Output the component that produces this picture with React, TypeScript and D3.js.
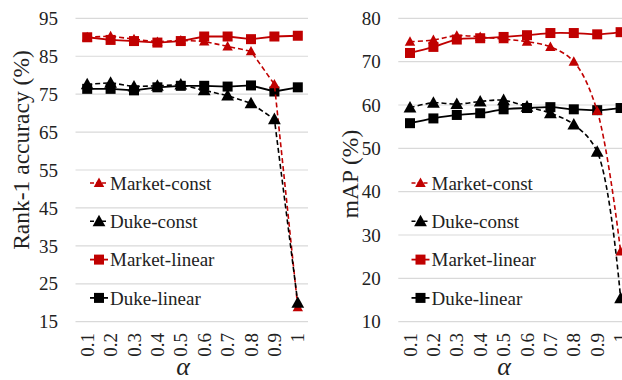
import { useEffect, useRef } from "react";
import * as d3 from "d3";

const alphas = ["0.1", "0.2", "0.3", "0.4", "0.5", "0.6", "0.7", "0.8", "0.9", "1"];

// Rank-1 accuracy (%)
const rankMarketConst = [90.0, 90.3, 89.5, 88.8, 89.2, 88.9, 87.6, 86.3, 77.6, 18.8];
const rankDukeConst = [77.6, 78.0, 77.0, 77.2, 77.5, 76.0, 74.6, 72.6, 68.4, 20.0];
const rankMarketLinear = [90.0, 89.3, 89.0, 88.6, 89.0, 90.2, 90.2, 89.5, 90.2, 90.4];
const rankDukeLinear = [76.4, 76.4, 76.0, 76.8, 77.2, 77.2, 77.0, 77.3, 75.7, 76.8];
const rankTicks = [15, 25, 35, 45, 55, 65, 75, 85, 95];

// mAP (%)
const mapMarketConst = [74.6, 75.0, 76.0, 75.7, 75.2, 74.6, 73.4, 70.0, 58.6, 26.2];
const mapDukeConst = [59.4, 60.5, 60.2, 60.8, 61.1, 59.6, 58.1, 55.5, 49.2, 15.4];
const mapMarketLinear = [72.0, 73.4, 75.1, 75.4, 75.7, 76.1, 76.6, 76.6, 76.3, 76.8];
const mapDukeLinear = [55.8, 56.9, 57.7, 58.1, 59.0, 59.3, 59.5, 59.0, 58.8, 59.3];
const mapTicks = [10, 20, 30, 40, 50, 60, 70, 80];

const legendNames = ["Market-const", "Duke-const", "Market-linear", "Duke-linear"];

const RED = "#C00000";
const FONT = "'Liberation Serif', 'Times New Roman', serif";

type Series = { name: string; values: number[]; color: string; dashed: boolean; marker: "tri" | "sq"; size: number };

const drawPanel = (
  svg: d3.Selection<SVGSVGElement, unknown, null, undefined>,
  opts: {
    left: number;
    right: number;
    domain: [number, number];
    ticks: number[];
    series: Series[];
    title: string;
    titleX: number;
    titleY: number;
    legendX: number;
    alphaX: number;
    smooth: boolean;
  }
) => {
  const top = 18.3;
  const bottom = 321.7;
  const g = svg.append("g");

  const x = d3.scaleBand().domain(alphas).range([opts.left, opts.right]);
  const cx = (c: string) => (x(c) as number) + x.bandwidth() / 2;
  const y = d3.scaleLinear().domain(opts.domain).range([bottom, top]);

  g.selectAll("line.grid")
    .data(opts.ticks)
    .join("line")
    .attr("x1", opts.left)
    .attr("x2", opts.right - 1.5)
    .attr("y1", (d) => y(d))
    .attr("y2", (d) => y(d))
    .attr("stroke", "#d9d9d9")
    .attr("stroke-width", 1.2);

  g.selectAll("text.ytick")
    .data(opts.ticks)
    .join("text")
    .attr("x", opts.left - 17.5)
    .attr("y", (d) => y(d))
    .attr("dy", "0.35em")
    .attr("text-anchor", "end")
    .attr("font-family", FONT)
    .attr("font-size", 19)
    .attr("fill", "#222")
    .text((d) => d);

  g.selectAll("text.xtick")
    .data(alphas)
    .join("text")
    .attr("transform", (d) => `translate(${cx(d)},333) rotate(-90)`)
    .attr("dy", "0.35em")
    .attr("text-anchor", "end")
    .attr("font-family", FONT)
    .attr("font-size", 19)
    .attr("fill", "#222")
    .text((d) => d);

  g.append("text")
    .attr("x", opts.alphaX)
    .attr("y", 375)
    .attr("text-anchor", "middle")
    .attr("font-family", FONT)
    .attr("font-style", "italic")
    .attr("font-size", 26)
    .attr("fill", "#222")
    .text("α");

  g.append("text")
    .attr("transform", `translate(${opts.titleX},${opts.titleY}) rotate(-90)`)
    .attr("text-anchor", "middle")
    .attr("font-family", FONT)
    .attr("font-size", 23.5)
    .attr("fill", "#222")
    .text(opts.title);

  const line = d3
    .line<number>()
    .x((_, i) => cx(alphas[i]))
    .y((d) => y(d))
    .curve(opts.smooth ? d3.curveCatmullRom.alpha(0.5) : d3.curveLinear);

  const marker = (sel: d3.Selection<SVGGElement, unknown, null, undefined>, s: Series, px: number, py: number) => {
    if (s.marker === "sq") {
      sel
        .append("rect")
        .attr("x", px - s.size / 2)
        .attr("y", py - s.size / 2)
        .attr("width", s.size)
        .attr("height", s.size)
        .attr("fill", s.color);
    } else {
      const h = s.size;
      sel
        .append("path")
        .attr("d", `M${px},${py - h * 0.6}L${px + h * 0.58},${py + h * 0.45}L${px - h * 0.58},${py + h * 0.45}Z`)
        .attr("fill", s.color);
    }
  };

  const order = [2, 3, 0, 1];
  order.forEach((k) => {
    const s = opts.series[k];
    const sg = g.append("g");
    sg.append("path")
      .attr("d", line(s.values))
      .attr("fill", "none")
      .attr("stroke", s.color)
      .attr("stroke-width", s.dashed ? 1.6 : 1.8)
      .attr("stroke-dasharray", s.dashed ? "5,3" : null);
    s.values.forEach((v, i) => marker(sg, s, cx(alphas[i]), y(v)));
  });

  opts.series.forEach((s, i) => {
    const ly = 183 + i * 38.3;
    const lg = g.append("g");
    lg.append("line")
      .attr("x1", opts.legendX)
      .attr("x2", opts.legendX + 18)
      .attr("y1", ly)
      .attr("y2", ly)
      .attr("stroke", s.color)
      .attr("stroke-width", s.dashed ? 1.6 : 1.8)
      .attr("stroke-dasharray", s.dashed ? "4,2" : null);
    marker(lg, s, opts.legendX + 9, ly);
    lg.append("text")
      .attr("x", opts.legendX + 20)
      .attr("y", ly)
      .attr("dy", "0.35em")
      .attr("font-family", FONT)
      .attr("font-size", 19)
      .attr("fill", "#222")
      .text(s.name);
  });
};

const mkSeries = (vals: number[][]): Series[] => [
  { name: legendNames[0], values: vals[0], color: RED, dashed: true, marker: "tri", size: 9 },
  { name: legendNames[1], values: vals[1], color: "#000", dashed: true, marker: "tri", size: 11 },
  { name: legendNames[2], values: vals[2], color: RED, dashed: false, marker: "sq", size: 10 },
  { name: legendNames[3], values: vals[3], color: "#000", dashed: false, marker: "sq", size: 10 },
];

const App = () => {
  const ref = useRef<SVGSVGElement>(null);

  useEffect(() => {
    const svg = d3.select(ref.current as SVGSVGElement);
    svg.selectAll("*").remove();

    drawPanel(svg, {
      left: 75.5,
      right: 309.5,
      domain: [15, 95],
      ticks: rankTicks,
      series: mkSeries([rankMarketConst, rankDukeConst, rankMarketLinear, rankDukeLinear]),
      title: "Rank-1 accuracy (%)",
      titleX: 29,
      titleY: 150,
      legendX: 90,
      alphaX: 183,
      smooth: false,
    });

    drawPanel(svg, {
      left: 398.3,
      right: 632.3,
      domain: [10, 80],
      ticks: mapTicks,
      series: mkSeries([mapMarketConst, mapDukeConst, mapMarketLinear, mapDukeLinear]),
      title: "mAP (%)",
      titleX: 358,
      titleY: 174,
      legendX: 411.5,
      alphaX: 504,
      smooth: true,
    });
  }, []);

  return (
    <svg
      ref={ref}
      width={622}
      height={380}
      style={{ position: "absolute", left: 0, top: 0, background: "#fff" }}
    />
  );
};

export default App;
